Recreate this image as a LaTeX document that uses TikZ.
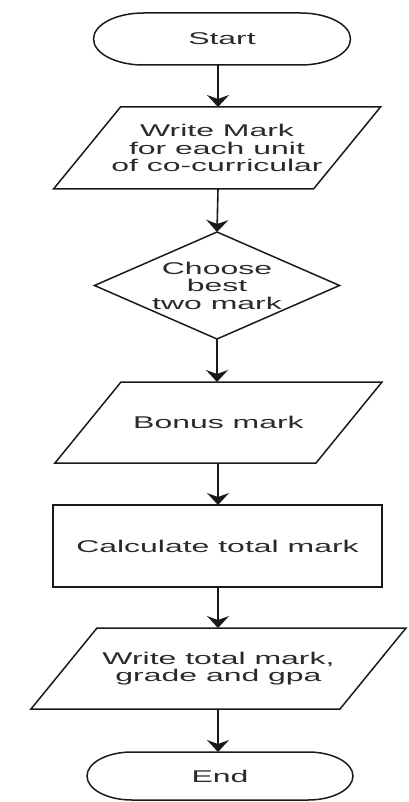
\documentclass[tikz,border=0pt]{standalone}
\usepackage{fontspec}
\newfontfamily\lbl[FakeStretch=1.88]{Liberation Sans}
\usetikzlibrary{arrows.meta,calc}
\definecolor{ln}{HTML}{1A1A1A}
\definecolor{tx}{HTML}{2A2A2A}
\tikzset{
  box/.style={inner sep=0pt, outer sep=0pt, align=center, text=tx,
    font=\lbl\fontsize{17}{17.5}\selectfont},
  outline/.style={draw=ln, line width=1.5pt, line join=miter},
  arr/.style={draw=ln, line width=1.6pt, -{Stealth[length=12pt,width=22pt,inset=4pt]}},
}
\begin{document}
\begin{tikzpicture}[x=1pt,y=-1pt]
\useasboundingbox (0,0) rectangle (409,802);
\coordinate (ax) at (218,0);
% Start
\node[box, minimum width=257pt, minimum height=52pt] (start) at (222,39) {Start};
\draw[outline] ($(start.north west)+(50pt,0)$) -- ($(start.north east)-(50pt,0)$)
  arc[start angle=90,end angle=-90,x radius=50pt,y radius=26pt]
  -- ($(start.south west)+(50pt,0)$)
  arc[start angle=270,end angle=90,x radius=50pt,y radius=26pt] -- cycle;
% Parallelogram 1
\node[box, minimum width=327pt, minimum height=82pt] (p1) at (217,148)
  {Write Mark\\for each unit\\of co-curricular};
\draw[outline] ($(p1.north west)+(67pt,0)$) -- (p1.north east)
  -- ($(p1.south east)-(67pt,0)$) -- (p1.south west) -- cycle;
% Diamond
\node[box, minimum width=245pt, minimum height=107pt] (d) at (217,285.5)
  {Choose\\best\\two mark};
\draw[outline] (d.north) -- (d.east) -- (d.south) -- (d.west) -- cycle;
% Parallelogram 2
\node[box, minimum width=327pt, minimum height=81pt] (p2) at (218.5,422.5) {Bonus mark};
\draw[outline] ($(p2.north west)+(66pt,0)$) -- (p2.north east)
  -- ($(p2.south east)-(66pt,0)$) -- (p2.south west) -- cycle;
% Rectangle
\node[box, outline, minimum width=329pt, minimum height=82pt] (r) at (217.5,546)
  {Calculate total mark};
% Parallelogram 3
\node[box, minimum width=375pt, minimum height=81pt] (p3) at (218.5,668.5)
  {Write total mark,\\grade and gpa};
\draw[outline] ($(p3.north west)+(66pt,0)$) -- (p3.north east)
  -- ($(p3.south east)-(66pt,0)$) -- (p3.south west) -- cycle;
% End
\node[box, minimum width=266pt, minimum height=48pt] (end) at (220,776) {End};
\draw[outline] ($(end.north west)+(45pt,0)$) -- ($(end.north east)-(45pt,0)$)
  arc[start angle=90,end angle=-90,x radius=45pt,y radius=24pt]
  -- ($(end.south west)+(45pt,0)$)
  arc[start angle=270,end angle=90,x radius=45pt,y radius=24pt] -- cycle;
% Arrows
\draw[arr] (start.south -| ax) -- (p1.north -| ax);
\draw[arr] (p1.south -| ax) -- (d.north);
\draw[arr] (d.south) -- (p2.north -| d.south);
\draw[arr] (p2.south -| ax) -- (r.north -| ax);
\draw[arr] (r.south -| ax) -- (p3.north -| ax);
\draw[arr] (p3.south -| ax) -- (end.north -| ax);
\end{tikzpicture}
\end{document}
